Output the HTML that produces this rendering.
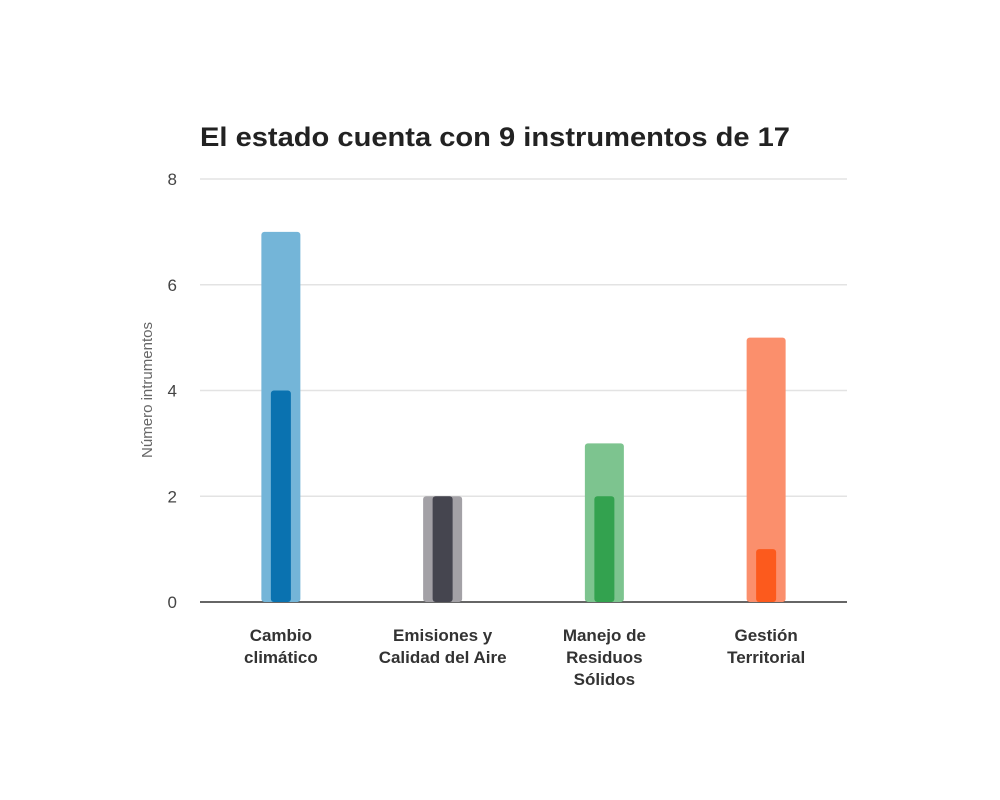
<!DOCTYPE html>
<html><head><meta charset="utf-8"><style>
body{margin:0;background:#fff;}
svg{display:block;font-family:"Liberation Sans",sans-serif;}
</style></head><body>
<svg id="chart" width="1000" height="800">
<text x="200" y="146" font-size="27" font-weight="bold" fill="#222" textLength="590" lengthAdjust="spacingAndGlyphs">El estado cuenta con 9 instrumentos de 17</text>
<text transform="translate(152,390) rotate(-90)" text-anchor="middle" font-size="15" fill="#666">Número intrumentos</text>
<g id="grid"></g><g id="bars"></g><g id="labels"></g>
</svg>
<script>
const categories=[["Cambio","climático"],["Emisiones y","Calidad del Aire"],["Manejo de","Residuos","Sólidos"],["Gestión","Territorial"]];
const totalValues=[7,2,3,5];
const presentValues=[4,2,2,1];
const yTicks=[0,2,4,6,8];
const outerColors=["#74b5d8","#a3a1a6","#7dc48f","#fb8f6c"];
const innerColors=["#0a72b0","#45454f","#33a24f","#fc5a1d"];
const NS="http://www.w3.org/2000/svg";
const x0=200,x1=847,y0=602,yTop=179;
const y=v=>y0-(v/8)*(y0-yTop);
const band=(x1-x0)/categories.length;
const cx=i=>x0+band*(i+0.5);
function mk(t,a,p){const e=document.createElementNS(NS,t);for(const k in a)e.setAttribute(k,a[k]);p.appendChild(e);return e;}
const G=document.getElementById('grid'),B=document.getElementById('bars'),L=document.getElementById('labels');
yTicks.forEach(t=>{
 if(t>0){const l=mk('line',{x1:x0,x2:x1,y1:y(t),y2:y(t),stroke:'#e3e3e3','stroke-width':1.5},G);
 
 }
 const tx=mk('text',{x:177,y:y(t)+6,'text-anchor':'end','font-size':17,fill:'#444'},G);tx.textContent=t;
 
 
});
categories.forEach((c,i)=>{
 const o=mk('rect',{x:cx(i)-19.5,y:y(totalValues[i]),width:39,height:y0-y(totalValues[i]),rx:3,fill:outerColors[i]},B);
 
 
 const n=mk('rect',{x:cx(i)-10,y:y(presentValues[i]),width:20,height:y0-y(presentValues[i]),rx:3,fill:innerColors[i]},B);
 
 
 const t=mk('text',{x:cx(i),'text-anchor':'middle','font-size':17,'font-weight':'bold',fill:'#333'},L);
 
 
 c.forEach((s,j)=>{const ts=mk('tspan',{x:cx(i),y:641+j*22},t);ts.textContent=s;});
});
const ax=mk('line',{x1:x0,x2:x1,y1:y0,y2:y0,stroke:'#333','stroke-width':1.5},G);


</script>
</body></html>
